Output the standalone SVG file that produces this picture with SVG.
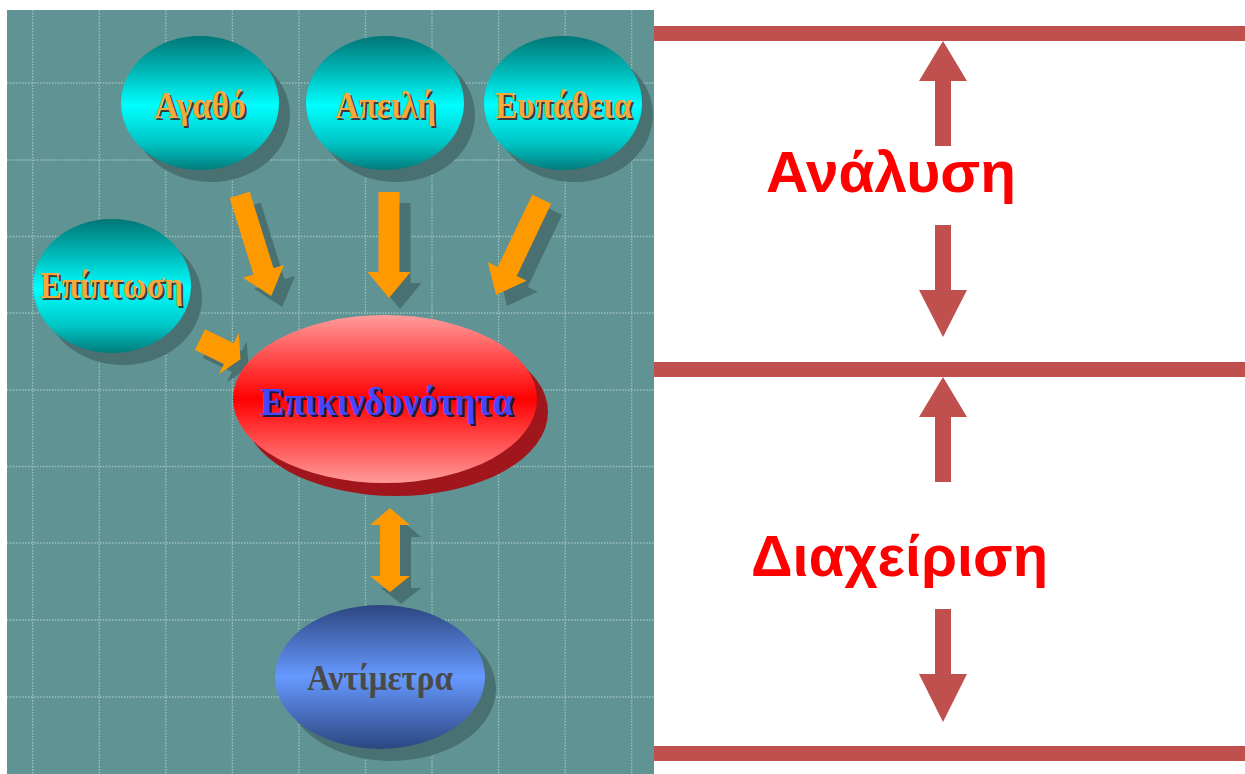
<svg xmlns="http://www.w3.org/2000/svg" width="1245" height="774" viewBox="0 0 1245 774">
  <defs>
    <linearGradient id="gCyan" x1="0" y1="0" x2="0" y2="1">
      <stop offset="0" stop-color="#007676"/>
      <stop offset="0.25" stop-color="#00b4b4"/>
      <stop offset="0.52" stop-color="#00ffff"/>
      <stop offset="0.8" stop-color="#00c4c4"/>
      <stop offset="1" stop-color="#007c7c"/>
    </linearGradient>
    <linearGradient id="gRed" x1="0" y1="0" x2="0" y2="1">
      <stop offset="0" stop-color="#ff9c9c"/>
      <stop offset="0.5" stop-color="#ff0000"/>
      <stop offset="1" stop-color="#ff9a9a"/>
    </linearGradient>
    <linearGradient id="gBlue" x1="0" y1="0" x2="0" y2="1">
      <stop offset="0" stop-color="#2c4680"/>
      <stop offset="0.5" stop-color="#6699ff"/>
      <stop offset="1" stop-color="#2c4680"/>
    </linearGradient>
    <!-- block arrow pointing along +y from its shaft top -->
    <polygon id="blockArrow" points="-10.5,0 10.5,0 10.5,80 21.5,80 0,106 -21.5,80 -10.5,80"/>
    <polygon id="shortArrow" points="-11.5,0 11.5,0 11.5,32 22.8,32 0,45 -22.8,32 -11.5,32"/>
    <polygon id="dblArrow" points="390,508 410,525 400,525 400,576 410,576 390,592 370,576 380,576 380,525 370,525"/>
  </defs>
  <style>
    .grid { stroke: #a8cccc; stroke-width: 1.3; stroke-dasharray: 1.5 1.5; fill: none; opacity: 0.85; }
    .shade { fill: #4a7171; }
    .arrow { fill: #ff9900; }
    .lbl { font-family: "Liberation Serif", "DejaVu Serif", serif; font-weight: bold; text-anchor: middle; }
    .orange { fill: #f5a83c; }
    .tshadow { fill: #3a3a3a; }
    .bar { fill: #c0504d; }
    .phase { font-family: "Liberation Sans", Arial, sans-serif; font-weight: bold; font-size: 58px; fill: #ff0000; }
  </style>

  <rect width="1245" height="774" fill="#ffffff"/>

  <!-- teal panel with dotted grid -->
  <rect x="7" y="10" width="647" height="764" fill="#609393"/>
  <g class="grid">
    <path d="M32.7 10V774M99.3 10V774M165.8 10V774M232.4 10V774M298.9 10V774M365.5 10V774M432 10V774M498.6 10V774M565.2 10V774M631.7 10V774"/>
    <path d="M7 83H654M7 160H654M7 236.5H654M7 313H654M7 390H654M7 466.5H654M7 543H654M7 620H654M7 697H654"/>
  </g>

  <!-- connectors -->
  <g id="connectors">
    <g class="shade">
      <use href="#blockArrow" transform="translate(250.7,205.9) rotate(-17.3)"/>
      <use href="#blockArrow" transform="translate(400,203)"/>
      <use href="#blockArrow" transform="translate(552.7,210.2) rotate(25.5)"/>
      <use href="#shortArrow" transform="translate(208,347.7) rotate(-64.2)"/>
      <use href="#dblArrow" transform="translate(11,12)"/>
    </g>
    <g class="arrow">
      <use href="#blockArrow" transform="translate(239.7,194.9) rotate(-17.3)"/>
      <use href="#blockArrow" transform="translate(389,192)"/>
      <use href="#blockArrow" transform="translate(541.7,199.2) rotate(25.5)"/>
      <use href="#shortArrow" transform="translate(200,339.7) rotate(-64.2)"/>
      <use href="#dblArrow"/>
    </g>
  </g>

  <g id="agatho">
    <ellipse class="shade" cx="211" cy="115" rx="79" ry="67"/>
    <ellipse cx="200" cy="103" rx="79" ry="67" fill="url(#gCyan)"/>
    <text class="lbl tshadow" x="202" y="120" font-size="37" textLength="92" lengthAdjust="spacingAndGlyphs">Αγαθό</text>
    <text class="lbl orange" x="200" y="118" font-size="37" textLength="92" lengthAdjust="spacingAndGlyphs">Αγαθό</text>
  </g>

  <g id="apeili">
    <ellipse class="shade" cx="396" cy="115" rx="79" ry="67"/>
    <ellipse cx="385" cy="103" rx="79" ry="67" fill="url(#gCyan)"/>
    <text class="lbl tshadow" x="387.5" y="120" font-size="37" textLength="101" lengthAdjust="spacingAndGlyphs">Απειλή</text>
    <text class="lbl orange" x="385.5" y="118" font-size="37" textLength="101" lengthAdjust="spacingAndGlyphs">Απειλή</text>
  </g>

  <g id="eupatheia">
    <ellipse class="shade" cx="574" cy="115" rx="79" ry="67"/>
    <ellipse cx="563" cy="103" rx="79" ry="67" fill="url(#gCyan)"/>
    <text class="lbl tshadow" x="565.5" y="120" font-size="37" textLength="137" lengthAdjust="spacingAndGlyphs">Ευπάθεια</text>
    <text class="lbl orange" x="563.5" y="118" font-size="37" textLength="137" lengthAdjust="spacingAndGlyphs">Ευπάθεια</text>
  </g>

  <g id="epiptosi">
    <ellipse class="shade" cx="123" cy="298" rx="79" ry="67"/>
    <ellipse cx="112" cy="286" rx="79" ry="67" fill="url(#gCyan)"/>
    <text class="lbl tshadow" x="113.5" y="300" font-size="37" textLength="143" lengthAdjust="spacingAndGlyphs">Επίπτωση</text>
    <text class="lbl orange" x="111.5" y="298" font-size="37" textLength="143" lengthAdjust="spacingAndGlyphs">Επίπτωση</text>
  </g>

  <g id="epikindynotita">
    <ellipse cx="396" cy="412" rx="152" ry="84" fill="#a1161d"/>
    <ellipse cx="385" cy="399" rx="152" ry="84" fill="url(#gRed)"/>
    <text class="lbl" x="388.5" y="417" font-size="41" fill="#1a1a40" textLength="253" lengthAdjust="spacingAndGlyphs">Επικινδυνότητα</text>
    <text class="lbl" x="386.5" y="415" font-size="41" fill="#4646ff" textLength="253" lengthAdjust="spacingAndGlyphs">Επικινδυνότητα</text>
  </g>

  <g id="antimetra">
    <ellipse class="shade" cx="391" cy="689" rx="105" ry="72"/>
    <ellipse cx="380" cy="677" rx="105" ry="72" fill="url(#gBlue)"/>
    <text class="lbl" x="380" y="690" font-size="36" fill="#4a4a4a" textLength="146" lengthAdjust="spacingAndGlyphs">Αντίμετρα</text>
  </g>

  <!-- phase scale on the right -->
  <g id="scale">
    <rect class="bar" x="654" y="26" width="591" height="15"/>
    <rect class="bar" x="654" y="362" width="591" height="15"/>
    <rect class="bar" x="654" y="746" width="591" height="15"/>
    <polygon class="bar" points="943,41 967,81 951,81 951,146 935,146 935,81 919,81"/>
    <polygon class="bar" points="935,225 951,225 951,290 967,290 943,337 919,290 935,290"/>
    <polygon class="bar" points="943,377 967,417 951,417 951,482 935,482 935,417 919,417"/>
    <polygon class="bar" points="935,609 951,609 951,674 967,674 943,722 919,674 935,674"/>
  </g>

  <g id="analysi">
    <text class="phase" x="766" y="192" textLength="250" lengthAdjust="spacingAndGlyphs">Ανάλυση</text>
  </g>
  <g id="diacheirisi">
    <text class="phase" x="751" y="576" textLength="297" lengthAdjust="spacingAndGlyphs">Διαχείριση</text>
  </g>
</svg>
